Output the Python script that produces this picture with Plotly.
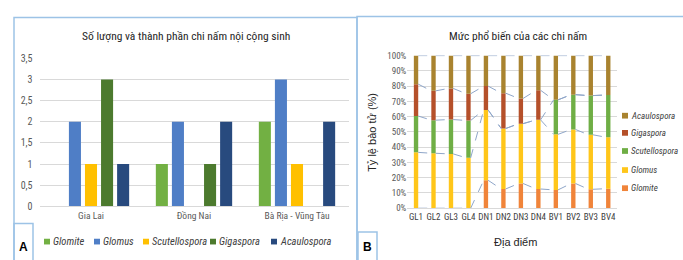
import plotly.graph_objects as go

W, H = 683, 260

# ---------------- Data: panel A ----------------
regions = ["Gia Lai", "Đồng Nai", "Bà Rịa - Vũng Tàu"]
genera = ["Glomite", "Glomus", "Scutellospora", "Gigaspora", "Acaulospora"]
count_glomite = [0, 1, 2]
count_glomus = [2, 2, 3]
count_scutellospora = [1, 0, 1]
count_gigaspora = [3, 1, 0]
count_acaulospora = [1, 2, 2]
y_ticks_a = [0, 0.5, 1, 1.5, 2, 2.5, 3, 3.5]

# ---------------- Data: panel B (% spores) ----------------
sites = ["GL1", "GL2", "GL3", "GL4", "DN1", "DN2", "DN3", "DN4",
         "BV1", "BV2", "BV3", "BV4"]
pct_glomite = [0, 0, 0, 0, 18.3, 12.6, 16.2, 12.6, 12.0, 16.2, 12.4, 12.8]
pct_glomus = [36.6, 36.0, 35.6, 33.0, 46.1, 39.6, 39.2, 45.3, 36.4, 35.4, 35.7, 33.7]
pct_scutellospora = [23.8, 21.7, 22.5, 24.5, 0, 0, 0, 0, 22.6, 22.8, 25.7, 27.7]
pct_gigaspora = [20.9, 19.2, 20.4, 17.5, 15.6, 23.2, 16.5, 19.4, 0, 0, 0, 0]
pct_acaulospora = [18.7, 23.1, 21.5, 25.0, 20.0, 24.6, 28.1, 22.7, 29.0, 25.6, 26.2, 25.8]

colors_a = ["#72B043", "#4F7EC6", "#FFC000", "#4C7A2E", "#284A7E"]
colors_b = ["#F0843A", "#FFC61A", "#6FAE45", "#B5502A", "#A9832F"]

FONT = "Liberation Sans Narrow, Roboto Condensed, DejaVu Sans Condensed, Arial Narrow, sans-serif"
FONT2 = "Liberation Sans, Arial, sans-serif"
GRID = "#D9D9D9"
TXT = "#595959"


def px(x):
    return x / W


def py(y):
    return 1 - y / H


fig = go.Figure()

# ---------- Panel A: grouped bars ----------
counts = [count_glomite, count_glomus, count_scutellospora, count_gigaspora, count_acaulospora]
for name, vals, col in zip(genera, counts, colors_a):
    fig.add_trace(go.Bar(
        x=regions, y=vals, name=name, marker_color=col, marker_line_width=0,
        xaxis="x", yaxis="y", showlegend=False,
    ))

# ---------- Panel B: 100% stacked bars via base ----------
pcts = [pct_glomite, pct_glomus, pct_scutellospora, pct_gigaspora, pct_acaulospora]
xs = list(range(len(sites)))
bw = 0.25
cum = [0.0] * len(sites)
tops = []
for name, vals, col in zip(genera, pcts, colors_b):
    base = list(cum)
    fig.add_trace(go.Bar(
        x=xs, y=vals, base=base, name=name, marker_color=col, marker_line_width=0,
        width=bw, offset=-bw / 2, xaxis="x2", yaxis="y2", showlegend=False,
    ))
    cum = [c + v for c, v in zip(cum, vals)]
    tops.append(list(cum))

# series lines connecting segment tops between adjacent bars
for top in tops:
    lx, ly = [], []
    for i in range(len(xs) - 1):
        lx += [xs[i] + bw / 2, xs[i + 1] - bw / 2, None]
        ly += [top[i], top[i + 1], None]
    fig.add_trace(go.Scatter(
        x=lx, y=ly, mode="lines", line=dict(color="#8FA6C9", width=1, dash="dash"),
        xaxis="x2", yaxis="y2", showlegend=False, hoverinfo="skip",
    ))

# ---------- frames ----------
frame = "#9DC3E6"
shapes = [
    dict(type="rect", xref="paper", yref="paper", x0=px(14), x1=px(357), y0=py(12), y1=py(270),
         line=dict(color=frame, width=1.5), layer="below"),
    dict(type="rect", xref="paper", yref="paper", x0=px(357), x1=px(700), y0=py(11), y1=py(270),
         line=dict(color=frame, width=1.5), layer="below"),
    dict(type="rect", xref="paper", yref="paper", x0=px(14), x1=px(33), y0=py(228), y1=py(270),
         line=dict(color=frame, width=1.5)),
    dict(type="rect", xref="paper", yref="paper", x0=px(358), x1=px(377), y0=py(237), y1=py(270),
         line=dict(color=frame, width=1.5)),
]

annotations = [
    dict(text="Số lượng và thành phần chi nấm nội cộng sinh", x=px(186), y=py(31),
         xref="paper", yref="paper", showarrow=False, xanchor="center", yanchor="middle",
         font=dict(size=11.5, color="#262626", family=FONT)),
    dict(text="Mức phổ biến của các chi nấm", x=px(518), y=py(31),
         xref="paper", yref="paper", showarrow=False, xanchor="center", yanchor="middle",
         font=dict(size=11.5, color="#262626", family=FONT)),
    dict(text="Tỷ lệ bào tử (%)", x=px(372), y=py(133), textangle=-90,
         xref="paper", yref="paper", showarrow=False, xanchor="center", yanchor="middle",
         font=dict(size=11, color="#262626", family=FONT2)),
    dict(text="Địa điểm", x=px(515), y=py(247),
         xref="paper", yref="paper", showarrow=False, xanchor="center", yanchor="middle",
         font=dict(size=11, color="#262626", family=FONT2)),
    dict(text="<b>A</b>", x=px(23.5), y=py(253),
         xref="paper", yref="paper", showarrow=False, xanchor="center", yanchor="middle",
         font=dict(size=12, color="#000000", family=FONT2)),
    dict(text="<b>B</b>", x=px(367.5), y=py(253),
         xref="paper", yref="paper", showarrow=False, xanchor="center", yanchor="middle",
         font=dict(size=12, color="#000000", family=FONT2)),
]

# ---------- legends (drawn as swatches + text) ----------
legend_a_x = [47, 97, 146, 213, 274]
legend_a_y = 247
for name, col, lx in zip(genera, colors_a, legend_a_x):
    shapes.append(dict(type="rect", xref="paper", yref="paper",
                       x0=px(lx - 3), x1=px(lx + 3), y0=py(legend_a_y + 3), y1=py(legend_a_y - 3),
                       fillcolor=col, line=dict(width=0)))
    annotations.append(dict(text=name, x=px(lx + 4), y=py(legend_a_y), xref="paper", yref="paper",
                            showarrow=False, xanchor="left", yanchor="middle",
                            font=dict(size=10.5, color="#404040", family=FONT, style="italic")))

legend_b_y = [191, 172, 152, 133, 115]  # Glomite ... Acaulospora
legend_b_x = 625
for name, col, ly in zip(genera, colors_b, legend_b_y):
    shapes.append(dict(type="rect", xref="paper", yref="paper",
                       x0=px(legend_b_x - 3), x1=px(legend_b_x + 3), y0=py(ly + 3), y1=py(ly - 3),
                       fillcolor=col, line=dict(width=0)))
    annotations.append(dict(text=name, x=px(legend_b_x + 4), y=py(ly), xref="paper", yref="paper",
                            showarrow=False, xanchor="left", yanchor="middle",
                            font=dict(size=9, color="#404040", family=FONT, style="italic")))

fig.update_layout(
    width=W, height=H,
    margin=dict(l=0, r=0, t=0, b=0),
    paper_bgcolor="white", plot_bgcolor="white",
    separators=", ",
    barmode="group", bargap=0.22, bargroupgap=0.25,
    font=dict(family=FONT, size=10, color=TXT),
    showlegend=False,
    xaxis=dict(domain=[px(39.5), px(348.5)], anchor="y", showline=True, linecolor=GRID,
               ticks="", tickfont=dict(size=9.5, color=TXT), tickangle=0, fixedrange=True),
    yaxis=dict(domain=[py(210), py(55)], anchor="x", range=[0, 3.5], tickvals=y_ticks_a,
               showgrid=True, gridcolor=GRID, zeroline=False, showline=False, ticks="",
               ticklabelstandoff=6, tickfont=dict(size=10, color=TXT), fixedrange=True),
    xaxis2=dict(domain=[px(407.3), px(617)], anchor="y2", range=[-0.5, 11.5],
                tickvals=xs, ticktext=sites, tickangle=0, showline=True, linecolor=GRID,
                showgrid=False, zeroline=False, ticks="",
                tickfont=dict(size=9, color="#404040"), fixedrange=True),
    yaxis2=dict(domain=[py(212), py(52)], anchor="x2", range=[0, 100], dtick=10,
                ticksuffix="%", showgrid=True, gridcolor=GRID, zeroline=False, showline=False,
                ticks="", tickfont=dict(size=9, color=TXT), fixedrange=True),
    shapes=shapes,
    annotations=annotations,
)

# remove the browser's default page margin so the figure sits at the window's corner
fig.write_html("out.html",
               config={"displayModeBar": False},
               post_script="document.body.style.margin='0';document.body.style.overflow='hidden';")
